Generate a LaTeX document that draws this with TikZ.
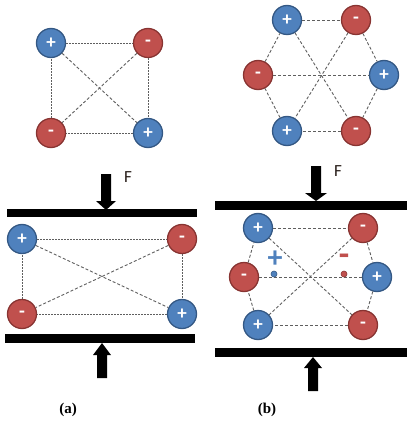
\documentclass[tikz,border=0pt]{standalone}
\usepackage{fontspec}
\setmainfont{Liberation Serif}
\newfontfamily\calibri{Carlito}
\definecolor{ionblue}{RGB}{79,129,189}
\definecolor{ionblueedge}{RGB}{52,88,132}
\definecolor{ionred}{RGB}{192,80,77}
\definecolor{ionrededge}{RGB}{136,52,50}
\definecolor{bondgray}{RGB}{95,95,95}
\definecolor{labelink}{RGB}{40,30,25}
\begin{document}
\begin{tikzpicture}[x=1pt,y=-1pt,
    ion/.style={circle,minimum size=29pt,inner sep=0pt,line width=1.3pt,text=white,
      font=\calibri\bfseries\fontsize{19}{19}\selectfont},
    posion/.style={ion,fill=ionblue,draw=ionblueedge},
    negion/.style={ion,fill=ionred,draw=ionrededge},
    bond/.style={draw=bondgray,line width=0.9pt,dash pattern=on 2pt off 1pt},
    diagbond/.style={draw=bondgray,line width=0.9pt,dash pattern=on 3pt off 2pt},
    forcelabel/.style={text=labelink,font=\calibri\fontsize{17}{17}\selectfont},
    caption/.style={font=\bfseries\fontsize{15}{15}\selectfont}]
  \useasboundingbox (0,0) rectangle (411,422);

  % (a) square arrangement
  \node[posion] (sqA) at (51,43) {+};
  \node[negion] (sqB) at (148,43) {-};
  \node[negion] (sqC) at (51,133) {-};
  \node[posion] (sqD) at (148,133) {+};
  \draw[bond] (sqA) -- (sqB);
  \draw[bond] (sqB) -- (sqD);
  \draw[bond] (sqD) -- (sqC);
  \draw[bond] (sqC) -- (sqA);
  \draw[diagbond] (sqA) -- (sqD);
  \draw[diagbond] (sqB) -- (sqC);

  % (b) hexagonal arrangement
  \node[posion] (hxA) at (287,20) {+};
  \node[negion] (hxB) at (356,20) {-};
  \node[negion] (hxC) at (258,75) {-};
  \node[posion] (hxD) at (384,75) {+};
  \node[posion] (hxE) at (287,131) {+};
  \node[negion] (hxF) at (356,131) {-};
  \draw[diagbond] (hxA) -- (hxB);
  \draw[diagbond] (hxB) -- (hxD);
  \draw[diagbond] (hxD) -- (hxF);
  \draw[diagbond] (hxF) -- (hxE);
  \draw[diagbond] (hxE) -- (hxC);
  \draw[diagbond] (hxC) -- (hxA);
  \draw[diagbond] (hxA) -- (hxF);
  \draw[diagbond] (hxB) -- (hxE);
  \draw[diagbond] (hxC) -- (hxD);

  % (a) under load
  \fill (101,174) -- (111,174) -- (111,201) -- (116,201) -- (106,210) -- (96,201) -- (101,201) -- cycle;
  \node[forcelabel] (fa) at (128,177) {F};
  \fill (7,209) rectangle (197,217);
  \node[posion] (rcA) at (22,239) {+};
  \node[negion] (rcB) at (182,239) {-};
  \node[negion] (rcC) at (22,314) {-};
  \node[posion] (rcD) at (182,314) {+};
  \draw[bond] (rcA) -- (rcB);
  \draw[bond] (rcB) -- (rcD);
  \draw[bond] (rcD) -- (rcC);
  \draw[bond] (rcC) -- (rcA);
  \draw[diagbond] (rcA) -- (rcD);
  \draw[diagbond] (rcB) -- (rcC);
  \fill (5,334) rectangle (195,343);
  \fill (102,343) -- (111,355) -- (107,355) -- (107,378) -- (97,378) -- (97,355) -- (93,355) -- cycle;

  % (b) under load
  \fill (311,166) -- (321,166) -- (321,193) -- (327,193) -- (316,201) -- (305,193) -- (311,193) -- cycle;
  \node[forcelabel] (fb) at (338,171) {F};
  \fill (215,201) rectangle (407,210);
  \node[posion] (dhA) at (258,228) {+};
  \node[negion] (dhB) at (363,228) {-};
  \node[negion] (dhC) at (244,277) {-};
  \node[posion] (dhD) at (377,277) {+};
  \node[posion] (dhE) at (258,325) {+};
  \node[negion] (dhF) at (363,325) {-};
  \draw[diagbond] (dhA) -- (dhB);
  \draw[diagbond] (dhB) -- (dhD);
  \draw[diagbond] (dhD) -- (dhF);
  \draw[diagbond] (dhF) -- (dhE);
  \draw[diagbond] (dhE) -- (dhC);
  \draw[diagbond] (dhC) -- (dhA);
  \draw[diagbond] (dhA) -- (dhF);
  \draw[diagbond] (dhB) -- (dhE);
  \draw[diagbond] (dhC) -- (dhD);
  \node[circle,inner sep=0pt,minimum size=6pt,fill=ionblue,draw=ionblueedge,line width=0.6pt] (cpos) at (274,274) {};
  \node[circle,inner sep=0pt,minimum size=6pt,fill=ionred,draw=ionrededge,line width=0.6pt] (cneg) at (344,274) {};
  \node[text=ionblue,font=\calibri\bfseries\fontsize{30}{30}\selectfont] (spos) at (275,259) {+};
  \node[text=ionred,font=\calibri\bfseries\fontsize{34}{34}\selectfont] (sneg) at (344,260) {-};
  \fill (215,348) rectangle (407,357);
  \fill (313,357) -- (322,368) -- (318,368) -- (318,391) -- (308,391) -- (308,368) -- (304,368) -- cycle;

  % captions
  \node[caption] (capa) at (68,410) {(a)};
  \node[caption] (capb) at (267,410) {(b)};
\end{tikzpicture}
\end{document}
